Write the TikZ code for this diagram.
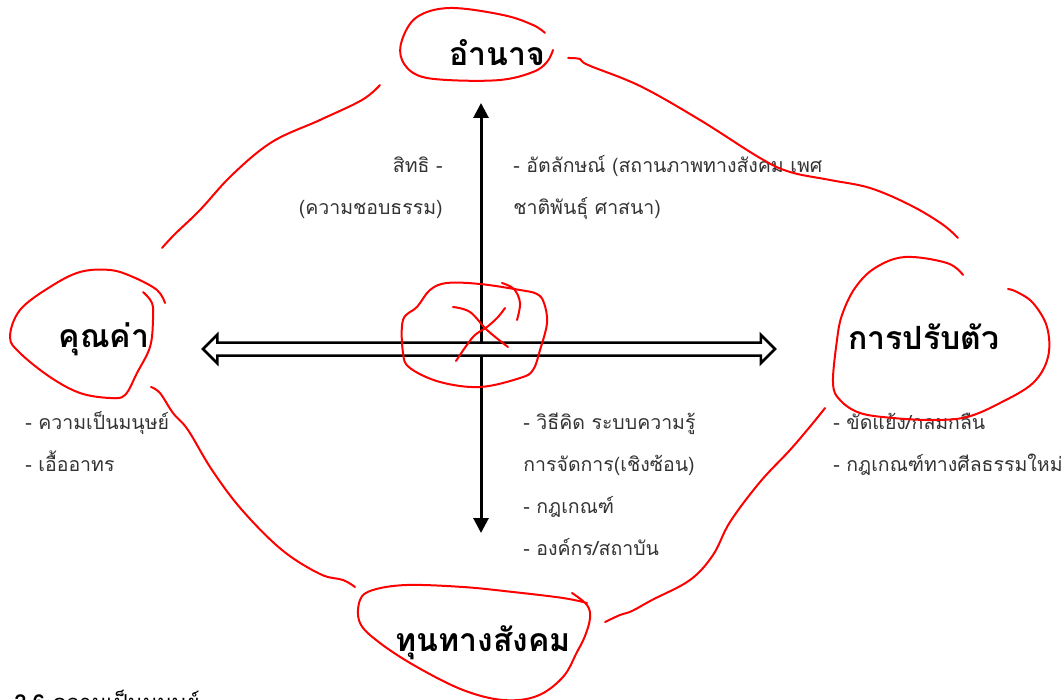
\documentclass[tikz,border=0pt]{standalone}
\usepackage{fontspec}
\setmainfont[Script=Thai]{Loma}
\usetikzlibrary{arrows.meta,shapes.arrows}

\tikzset{every picture/.style={line width=0.75pt}}
\tikzset{
  headline/.style={font=\fontsize{32}{38}\selectfont\bfseries, inner sep=0pt},
  notes/.style={font=\fontsize{19.5}{42}\selectfont, inner sep=0pt, text=black!80},
  pen/.style={draw=red, line width=2pt, line cap=round, line join=round},
}

\begin{document}
\begin{tikzpicture}[x=1pt,y=1pt,yscale=-1,xscale=1]
\useasboundingbox (0,0) rectangle (1062,700);

%Straight Lines [vertical axis]
\coordinate (axtop) at (481,103);
\coordinate (axbot) at (481,533);
\draw [line width=3pt, {Triangle[length=15pt,width=15pt]}-{Triangle[length=15pt,width=15pt]}] (axtop) -- (axbot) ;
%Shape: Double Arrow [horizontal axis]
\node [double arrow, draw, fill=white, line width=2.5pt, inner xsep=0pt, inner ysep=5.25pt,
       double arrow head extend=7.75pt, minimum height=572pt] (axis) at (489,349) {};

% Text Node
\node [headline, anchor=base] (power) at (497,66) {อำนาจ};
% Text Node
\node [headline, anchor=base] (value) at (104,348) {คุณค่า};
% Text Node
\node [headline, anchor=base] (adapt) at (924,349) {การปรับตัว};
% Text Node
\node [headline, anchor=base] (capital) at (483,651) {ทุนทางสังคม};
% Text Node (base anchor sits on the last line)
\node [notes, anchor=base east, align=right] (rights) at (443,215) {สิทธิ -\\(ความชอบธรรม)};
% Text Node
\node [notes, anchor=base west, align=left] (identity) at (513,215) {- อัตลักษณ์ (สถานภาพทางสังคม เพศ\\ชาติพันธุ์ ศาสนา)};
% Text Node
\node [notes, anchor=base west, align=left] (humanity) at (25,471) {- ความเป็นมนุษย์\\- เอื้ออาทร};
% Text Node
\node [notes, anchor=base west, align=left] (conflict) at (833,471) {- ขัดแย้ง/กลมกลืน\\- กฎเกณฑ์ทางศีลธรรมใหม่};
% Text Node
\node [notes, anchor=base west, align=left] (knowledge) at (523,555) {- วิธีคิด ระบบความรู้\\การจัดการ(เชิงซ้อน)\\- กฎเกณฑ์\\- องค์กร/สถาบัน};
% Text Node
\node [font=\fontsize{22}{26}\selectfont, inner sep=0pt, anchor=base west] (section) at (14,710) {\textbf{2.6} ความเป็นมนุษย์};

%Curve Lines [loop round power]
\draw [pen] plot [smooth, tension=0.6] coordinates {(545,33) (533,25) (503,15) (450,8) (417,17) (402,40) (402,60) (417,75) (447,80) (500,80) (533,72) (547,62) (553,50)};
%Curve Lines [power to adapt]
\draw [pen] plot [smooth, tension=0.6] coordinates {(568,58) (580,59) (588,65) (640,86) (700,120) (760,158) (790,172) (830,180) (870,188) (910,205) (942,224) (958,238)};
%Curve Lines [power to value]
\draw [pen] plot [smooth, tension=0.6] coordinates {(380,85) (362,100) (320,120) (272,142) (232,175) (200,210) (175,234) (162,248)};
%Curve Lines [loop round value]
\draw [pen] plot [smooth, tension=0.6] coordinates {(165,303) (157,290) (133,277) (110,270) (80,272) (50,287) (20,310) (10,337) (20,353) (50,377) (80,393) (110,398) (125,395) (137,373) (150,347) (153,320) (152,303) (143,292)};
%Curve Lines [value to capital]
\draw [pen] plot [smooth, tension=0.6] coordinates {(151,387) (160,393) (173,413) (188,430) (212,470) (242,510) (282,550) (320,574) (343,580) (355,587)};
%Curve Lines [loop round capital]
\draw [pen] plot [smooth, tension=0.6] coordinates {(572,593) (587,605) (590,618) (585,636) (577,652) (563,677) (537,696) (503,700) (463,690) (417,667) (380,643) (360,623) (360,600) (373,590) (407,585) (463,587) (513,592) (563,598) (587,603)};
%Curve Lines [capital to adapt]
\draw [pen] plot [smooth, tension=0.6] coordinates {(605,622) (620,615) (632,611) (652,600) (690,580) (713,555) (730,522) (760,482) (790,450) (813,423) (825,408)};
%Curve Lines [loop round adapt]
\draw [pen] plot [smooth, tension=0.6] coordinates {(963,275) (947,263) (905,257) (875,268) (855,288) (842,315) (837,340) (833,383) (840,400) (860,413) (893,418) (933,420) (967,417) (1000,403) (1033,383) (1048,357) (1047,327) (1033,303) (1017,292) (1008,289)};
%Curve Lines [loop round centre]
\draw [pen] plot [smooth cycle, tension=0.6] coordinates {(447,283) (480,284) (520,290) (537,294) (544,303) (547,323) (540,350) (533,370) (520,378) (480,387) (440,382) (410,368) (403,353) (403,320) (417,307) (430,290)};
%Curve Lines [inner arc]
\draw [pen] plot [smooth, tension=0.6] coordinates {(502,283) (514,289) (520,303) (517,320)};
%Curve Lines [cross]
\draw [pen] plot [smooth, tension=0.6] coordinates {(453,307) (470,312) (487,330) (508,347)};
\draw [pen] plot [smooth, tension=0.6] coordinates {(456,361) (473,337) (487,327) (498,317) (505,308)};

\end{tikzpicture}
\end{document}
